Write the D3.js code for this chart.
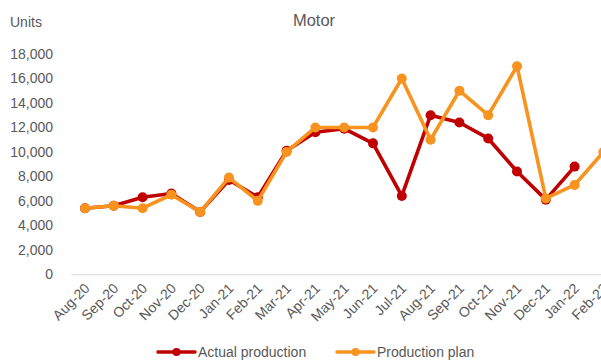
<!DOCTYPE html>
<html>
<head>
<meta charset="utf-8">
<script src="https://cdn.jsdelivr.net/npm/d3@7"></script>
<style>
  html, body { margin: 0; padding: 0; background: #fff; overflow: hidden; }
  svg { display: block; font-family: "Liberation Sans", Arial, sans-serif; }
</style>
</head>
<body>
<svg id="chart" width="601" height="362"></svg>
<script>
// Monthly motor output: actual vs. plan
const months = ["Aug-20","Sep-20","Oct-20","Nov-20","Dec-20","Jan-21","Feb-21","Mar-21","Apr-21","May-21","Jun-21","Jul-21","Aug-21","Sep-21","Oct-21","Nov-21","Dec-21","Jan-22","Feb-22"];
const actualProduction = [5400, 5600, 6300, 6600, 5100, 7700, 6300, 10100, 11600, 11900, 10700, 6400, 13000, 12400, 11100, 8400, 6100, 8800, null];
const productionPlan   = [5400, 5600, 5400, 6500, 5100, 7900, 6000, 10000, 12000, 12000, 12000, 16000, 11000, 15000, 13000, 17000, 6200, 7300, 10000];
const yTicks = [0, 2000, 4000, 6000, 8000, 10000, 12000, 14000, 16000, 18000];

const textColor = "#595959";
const series = [
  { name: "Actual production", values: actualProduction, color: "#C00000" },
  { name: "Production plan",   values: productionPlan,   color: "#F7931E" }
];

const svg = d3.select("#chart");

// The plot runs past the right edge of the canvas, so the last month is clipped
const x = d3.scalePoint().domain(months).range([70.6, 617.8]).padding(0.5);
const y = d3.scaleLinear().domain([0, 18000]).range([274.3, 54]);

// Title and unit label
svg.append("text").attr("x", 314).attr("y", 26).attr("text-anchor", "middle")
  .attr("font-size", 16.5).attr("fill", textColor).text("Motor");
svg.append("text").attr("x", 10).attr("y", 27)
  .attr("font-size", 14).attr("fill", textColor).text("Units");

// Y axis: labels only
const yAxis = svg.append("g").attr("transform", "translate(53,0)")
  .call(d3.axisLeft(y).tickValues(yTicks).tickFormat(d3.format(",")).tickSize(0).tickPadding(0));
yAxis.select(".domain").remove();
yAxis.selectAll("text").attr("font-size", 14).attr("fill", textColor)
  .attr("font-family", "Liberation Sans, Arial, sans-serif");

// X axis baseline and rotated month labels
const xAxis = svg.append("g").attr("transform", `translate(0,${y(0)})`)
  .call(d3.axisBottom(x).tickSize(0));
xAxis.select(".domain").attr("stroke", "#D9D9D9").attr("stroke-width", 1);
xAxis.selectAll("text")
  .attr("font-size", 14).attr("fill", textColor)
  .attr("font-family", "Liberation Sans, Arial, sans-serif")
  .attr("text-anchor", "end")
  .attr("dy", null).attr("y", 0)
  .attr("transform", "translate(5,15) rotate(-45)");

// Lines and markers
const line = d3.line()
  .defined(d => d.v != null)
  .x(d => x(d.m)).y(d => y(d.v));

series.forEach(s => {
  const pts = months.map((m, i) => ({ m, v: s.values[i] }));
  const g = svg.append("g");
  g.append("path").datum(pts)
    .attr("d", line).attr("fill", "none")
    .attr("stroke", s.color).attr("stroke-width", 3.6)
    .attr("stroke-linejoin", "round").attr("stroke-linecap", "round");
  g.selectAll("circle").data(pts.filter(d => d.v != null)).join("circle")
    .attr("cx", d => x(d.m)).attr("cy", d => y(d.v)).attr("r", 5)
    .attr("fill", s.color);
});

// Legend
const legendX = [158, 337];
series.forEach((s, i) => {
  const g = svg.append("g").attr("transform", `translate(${legendX[i]},352)`);
  g.append("line").attr("x1", 0).attr("x2", 37).attr("y1", 0).attr("y2", 0)
    .attr("stroke", s.color).attr("stroke-width", 3.5).attr("stroke-linecap", "round");
  g.append("circle").attr("cx", 18.5).attr("cy", 0).attr("r", 4).attr("fill", s.color);
  g.append("text").attr("x", 40).attr("y", 5).attr("font-size", 14)
    .attr("fill", textColor).text(s.name);
});
</script>
</body>
</html>
